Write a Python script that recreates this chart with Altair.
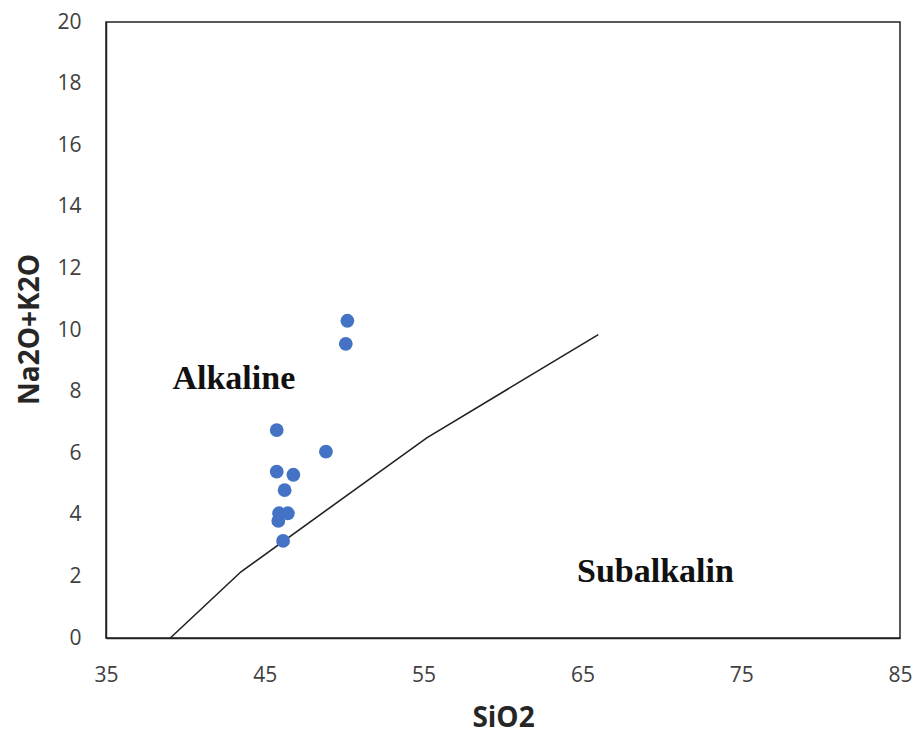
import altair as alt
import pandas as pd

sio2 = [50.2, 50.1, 45.75, 48.85, 45.75, 46.8, 46.25, 45.9, 46.45, 45.85, 46.15]
alk = [10.3, 9.55, 6.75, 6.05, 5.4, 5.3, 4.8, 4.05, 4.05, 3.8, 3.15]

line_x = [39.05, 43.5, 55.2, 66.0]
line_y = [0.0, 2.15, 6.5, 9.85]

label_text = ["Alkaline", "Subalkalin"]
label_x = [43.05, 69.6]
label_y = [8.4, 2.15]

pts = pd.DataFrame({"SiO2": sio2, "Alk": alk})
ln = pd.DataFrame({"SiO2": line_x, "Alk": line_y, "o": list(range(len(line_x)))})
lab = pd.DataFrame({"SiO2": label_x, "Alk": label_y, "t": label_text})

xs = alt.Scale(domain=[35, 85], nice=False, zero=False)
ys = alt.Scale(domain=[0, 20], nice=False)

xax = alt.Axis(values=[35, 45, 55, 65, 75, 85], grid=False, ticks=False,
               labelFlush=False, labelPadding=26, labelFontSize=21,
               labelColor="#404040", labelFont="Open Sans",
               title="SiO2", titleFont="Open Sans",
               titleFontSize=28, titleFontWeight="bold", titleColor="#262626",
               titleX=397, titleY=80, titleBaseline="middle",
               domainColor="#222", domainWidth=1.5)
yax = alt.Axis(values=list(range(0, 21, 2)), grid=False, ticks=False,
               labelFlush=False, labelPadding=25, labelFontSize=21,
               labelColor="#404040", labelFont="Open Sans",
               title="Na2O+K2O", titleFont="Open Sans",
               titleFontSize=28, titleFontWeight="bold", titleColor="#262626",
               titleX=-76, titleY=307, titleAngle=-90, titleAlign="center",
               titleBaseline="middle", domainColor="#222", domainWidth=1.5)

points = alt.Chart(pts).mark_circle(size=190, color="#4472C4", opacity=1).encode(
    x=alt.X("SiO2:Q", scale=xs, axis=xax),
    y=alt.Y("Alk:Q", scale=ys, axis=yax),
)
line = alt.Chart(ln).mark_line(color="#222", strokeWidth=1.6).encode(
    x=alt.X("SiO2:Q", scale=xs), y=alt.Y("Alk:Q", scale=ys), order="o:Q"
)
text = alt.Chart(lab).mark_text(font="Liberation Serif", fontSize=34,
                                fontWeight="bold", color="#111").encode(
    x=alt.X("SiO2:Q", scale=xs), y=alt.Y("Alk:Q", scale=ys), text="t:N"
)

chart = (line + points + text).properties(
    width=794, height=616,
    autosize=alt.AutoSizeParams(type="none"),
    padding={"left": 98, "top": 14, "right": 12, "bottom": 95},
).configure_view(stroke="#222", strokeWidth=1.5)

chart.save("out.html", embed_options={"renderer": "svg", "actions": False})
